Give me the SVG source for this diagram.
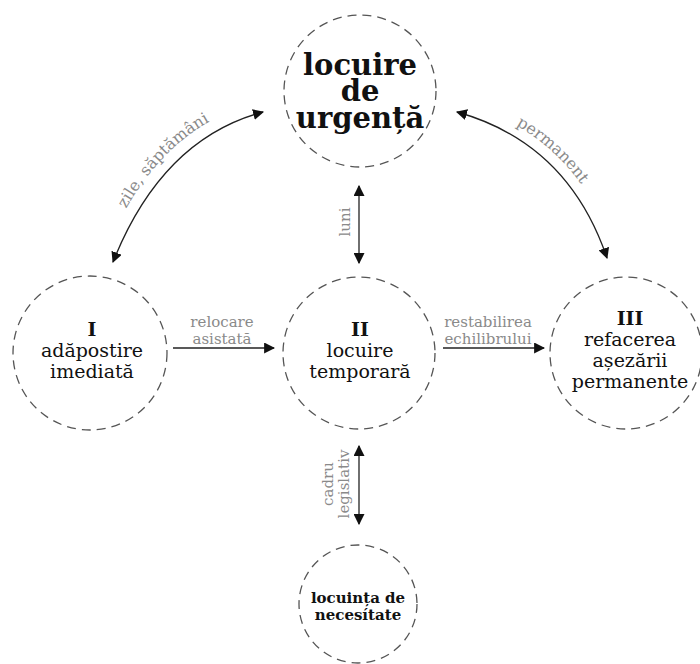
<svg xmlns="http://www.w3.org/2000/svg" width="700" height="664" viewBox="0 0 700 664">
<style>
.c{fill:none;stroke:#555;stroke-width:1.3;stroke-dasharray:9 6}
.t{font-family:"DejaVu Serif","Liberation Serif",serif;font-size:19px;fill:#111;text-anchor:middle}
.b{font-weight:bold}
.l{font-family:"DejaVu Serif","Liberation Serif",serif;font-size:15px;fill:#8a8a8a;text-anchor:middle}
.a{fill:none;stroke:#222;stroke-width:1.3}
</style>
<defs>
<marker id="ah" viewBox="0 0 10 10" refX="9" refY="5" markerWidth="11" markerHeight="11" markerUnits="userSpaceOnUse" orient="auto-start-reverse">
<path d="M0,0 L10,5 L0,10 z" fill="#111"/>
</marker>
<path id="pl" d="M105,254 Q153,130 256,103"/>
<path id="pr" d="M464,104 Q575,135 614,250"/>
</defs>
<g id="n0">
<circle class="c" cx="360" cy="91" r="76"/>
<text class="t b" style="font-size:29px"><tspan x="360" y="75">locuire</tspan><tspan x="360" y="101">de</tspan><tspan x="360" y="128">urgență</tspan></text>
</g>
<g id="n1">
<circle class="c" cx="90" cy="353" r="77"/>
<text class="t"><tspan x="92" y="336" class="b">I</tspan><tspan x="92" y="357">adăpostire</tspan><tspan x="92" y="378">imediată</tspan></text>
</g>
<g id="n2">
<circle class="c" cx="359" cy="353" r="76"/>
<text class="t"><tspan x="360" y="336" class="b">II</tspan><tspan x="360" y="357">locuire</tspan><tspan x="360" y="378">temporară</tspan></text>
</g>
<g id="n3">
<circle class="c" cx="626" cy="353" r="76"/>
<text class="t"><tspan x="630" y="325" class="b">III</tspan><tspan x="630" y="346">refacerea</tspan><tspan x="630" y="367">așezării</tspan><tspan x="630" y="388">permanente</tspan></text>
</g>
<g id="n4">
<circle class="c" cx="358" cy="604" r="59"/>
<text class="t b" style="font-size:15px"><tspan x="358" y="603">locuința de</tspan><tspan x="358" y="620">necesítate</tspan></text>
</g>
<g id="connectors">
<path class="a" d="M113,262 Q162,139 263,112" marker-start="url(#ah)" marker-end="url(#ah)"/>
<path class="a" d="M457,112 Q568,143 607,258" marker-start="url(#ah)" marker-end="url(#ah)"/>
<line class="a" x1="359" y1="186" x2="359" y2="263" marker-start="url(#ah)" marker-end="url(#ah)"/>
<line class="a" x1="359" y1="446" x2="359" y2="524" marker-start="url(#ah)" marker-end="url(#ah)"/>
<line class="a" x1="173" y1="348" x2="274" y2="348" marker-end="url(#ah)"/>
<line class="a" x1="443" y1="348" x2="544" y2="348" marker-end="url(#ah)"/>
<text class="l" style="font-size:16px"><textPath href="#pl" startOffset="50%">zile, săptămâni</textPath></text>
<text class="l" style="font-size:16px"><textPath href="#pr" startOffset="46%">permanent</textPath></text>
<text class="l" transform="translate(350,222) rotate(-90)">luni</text>
<text class="l" transform="translate(333,484) rotate(-90)">cadru</text>
<text class="l" transform="translate(349,484) rotate(-90)">legislativ</text>
<text class="l"><tspan x="222" y="327">relocare</tspan><tspan x="222" y="344">asistată</tspan></text>
<text class="l"><tspan x="488" y="327">restabilirea</tspan><tspan x="488" y="344">echilibrului</tspan></text>
</g>
</svg>
